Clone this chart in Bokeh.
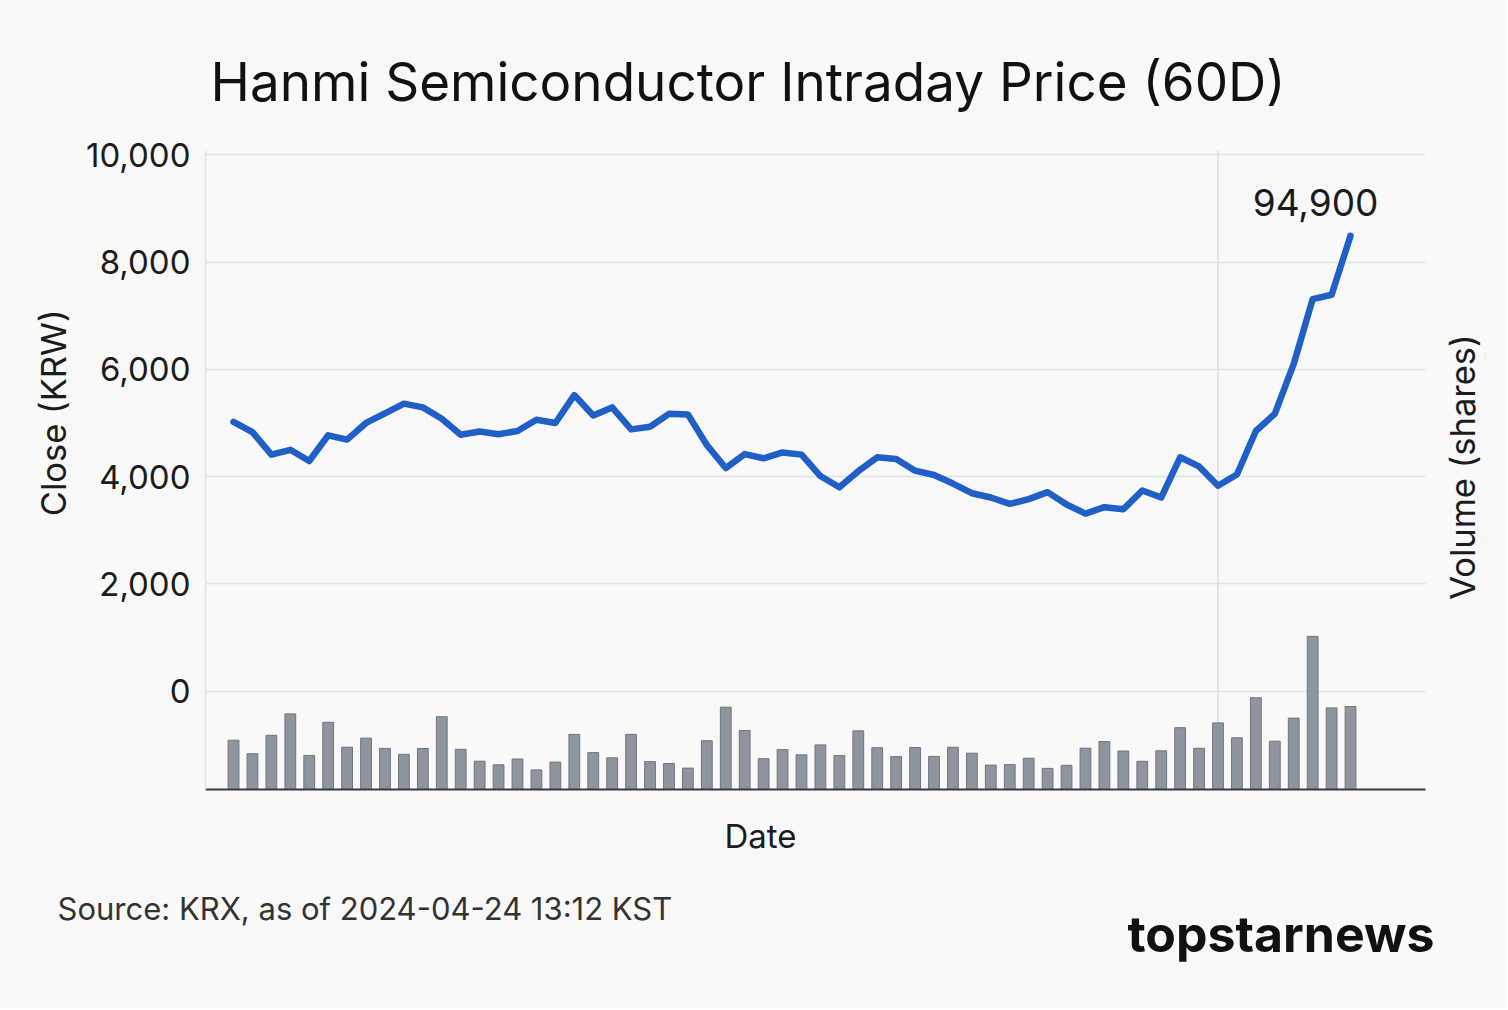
import math
from bokeh.plotting import figure
from bokeh.layouts import column, row
from bokeh.models import Range1d, FixedTicker, NumeralTickFormatter, Label, Span
from bokeh.embed import file_html
from bokeh.resources import INLINE

# ---- text ----
title_text = "Hanmi Semiconductor Intraday Price (60D)"
x_label = "Date"
y_label = "Close (KRW)"
y2_label = "Volume (shares)"
source_note = "Source: KRX, as of 2024-04-24 13:12 KST"
brand = "topstarnews"
last_label = "94,900"

# ---- data ----
day_index = list(range(60))
close_krw = [5020, 4830, 4410, 4500, 4290, 4770, 4690, 5000, 5180, 5360,
             5290, 5080, 4780, 4840, 4790, 4850, 5060, 5000, 5520, 5140,
             5290, 4880, 4930, 5170, 5160, 4590, 4160, 4420, 4340, 4450,
             4410, 4010, 3800, 4100, 4360, 4330, 4110, 4030, 3870, 3690,
             3610, 3490, 3580, 3710, 3480, 3310, 3430, 3390, 3740, 3610,
             4360, 4190, 3830, 4040, 4850, 5170, 6100, 7310, 7390, 8490]
volume_k = [986, 716, 1084, 1512, 682, 1344, 846, 1028, 822, 704,
            820, 1456, 804, 566, 494, 610, 392, 548, 1102, 738,
            634, 1102, 558, 520, 428, 976, 1646, 1180, 616, 798,
            694, 892, 678, 1174, 836, 658, 840, 662, 844, 726,
            488, 498, 626, 422, 484, 826, 960, 770, 564, 774,
            1236, 824, 1332, 1034, 1836, 966, 1428, 3062, 1632, 1660]
price_ticks = [0, 2000, 4000, 6000, 8000, 10000]
marker_day = 52

BG = "#f9f9fa"
FONT = "Inter"
TOTAL_W = 1506
HEAD_H = 130
MID_H = 670
FOOT_H = 208
LEFT_W = 80
RIGHT_W = 66
MAIN_W = TOTAL_W - LEFT_W - RIGHT_W


def text_panel(w, h):
    f = figure(width=w, height=h, output_backend="svg", toolbar_location=None,
               x_range=Range1d(0, w), y_range=Range1d(0, h),
               x_axis_location=None, y_axis_location=None,
               min_border=0, title=None)
    f.grid.visible = False
    f.outline_line_color = None
    f.background_fill_color = BG
    f.border_fill_color = BG
    return f


# ---- header ----
head = text_panel(TOTAL_W, HEAD_H)
head.add_layout(Label(x=210, y=49, text=title_text, text_font=FONT,
                      text_font_size="53px", text_color="#111111",
                      text_align="left", text_baseline="alphabetic"))

# ---- left / right labels ----
left = text_panel(LEFT_W, MID_H)
left.add_layout(Label(x=53, y=395, text=y_label, angle=math.pi / 2, text_font=FONT,
                      text_font_size="34.5px", text_color="#1c1c1c",
                      text_align="center", text_baseline="middle"))
right = text_panel(RIGHT_W, MID_H)
right.add_layout(Label(x=22, y=338, text=y2_label, angle=math.pi / 2, text_font=FONT,
                       text_font_size="34.5px", text_color="#1c1c1c",
                       text_align="center", text_baseline="middle"))

# ---- main chart ----
p = figure(width=MAIN_W, height=MID_H, output_backend="svg", toolbar_location=None,
           x_range=Range1d(-1.48, 62.96), y_range=Range1d(-1834, 10080),
           min_border_left=125, min_border_right=15, min_border_top=20,
           min_border_bottom=11, title=None)
p.background_fill_color = BG
p.border_fill_color = BG
p.outline_line_color = None
p.extra_y_ranges = {"vol": Range1d(0, 12780)}

p.xgrid.grid_line_color = None
p.ygrid.grid_line_color = "#dfe2e7"
p.ygrid.grid_line_width = 1.5
p.ygrid.ticker = FixedTicker(ticks=price_ticks)

ya = p.yaxis[0]
ya.ticker = FixedTicker(ticks=price_ticks)
ya.formatter = NumeralTickFormatter(format="0,0")
ya.major_label_text_font = FONT
ya.major_label_text_font_size = "33px"
ya.major_label_text_color = "#1c1c1c"
ya.major_tick_line_color = None
ya.minor_tick_line_color = None
ya.axis_line_color = "#dfe2e7"
ya.axis_line_width = 1.5
ya.major_label_standoff = 9

xa = p.xaxis[0]
xa.ticker = FixedTicker(ticks=[])
xa.major_label_text_font_size = "0px"
xa.major_label_standoff = 0
xa.major_tick_line_color = None
xa.minor_tick_line_color = None
xa.axis_line_color = "#3a3a3a"
xa.axis_line_width = 2

p.add_layout(Span(location=marker_day, dimension="height", line_color="#dadde2",
                  line_width=1.5, level="underlay"))

p.vbar(x=day_index, top=volume_k, width=0.57, bottom=0, y_range_name="vol",
       fill_color="#8f959f", line_color="#6f757f", line_width=1)

p.line(x=day_index, y=close_krw, line_color="#1f5fc6", line_width=6.5,
       line_join="round", line_cap="round")

p.add_layout(Label(x=day_index[-1], y=close_krw[-1], x_offset=-35, y_offset=33,
                   text=last_label, text_font=FONT, text_font_size="37px",
                   text_color="#1a1a1a", text_align="center", text_baseline="middle"))

# ---- footer ----
foot = text_panel(TOTAL_W, FOOT_H)
foot.add_layout(Label(x=760, y=173, text=x_label, text_font=FONT,
                      text_font_size="33px", text_color="#1c1c1c",
                      text_align="center", text_baseline="middle"))
foot.add_layout(Label(x=57, y=100, text=source_note, text_font=FONT,
                      text_font_size="31px", text_color="#333333",
                      text_align="left", text_baseline="alphabetic"))
foot.add_layout(Label(x=1434, y=75, text=brand, text_font=FONT,
                      text_font_size="50px", text_font_style="bold",
                      text_color="#111111", text_align="right", text_baseline="alphabetic"))

mid = row(left, p, right, styles={"background-color": BG})
layout = column(head, mid, foot, styles={"background-color": BG})
open("out.html", "w").write(file_html(layout, INLINE))
